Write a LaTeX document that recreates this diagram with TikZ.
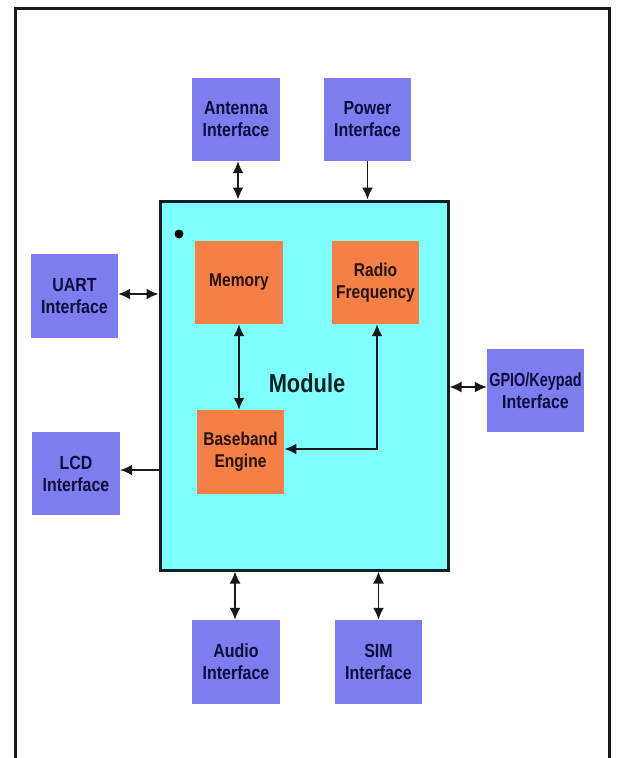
\documentclass[tikz,border=0pt]{standalone}
\usepackage{fontspec}
\newfontfamily\labfont[FakeStretch=0.84]{Liberation Sans}
\newfontfamily\narrowfont[FakeStretch=0.76]{Liberation Sans}
\usetikzlibrary{arrows.meta}
\definecolor{ifblue}{RGB}{125,125,240}
\definecolor{orng}{RGB}{244,128,72}
\definecolor{cyanm}{RGB}{128,255,255}
\definecolor{navy}{RGB}{14,14,60}
\definecolor{dtxt}{RGB}{40,18,18}
\definecolor{mborder}{RGB}{16,32,32}
\tikzset{
  x=1pt,y=-1pt,
  ifbox/.style={rectangle,fill=ifblue,draw=none,align=center,inner sep=0pt,
    font=\labfont\bfseries\fontsize{19}{22}\selectfont,text=navy},
  subbox/.style={rectangle,fill=orng,draw=none,align=center,inner sep=0pt,
    minimum width=87.5pt,minimum height=83pt,
    font=\labfont\bfseries\fontsize{18.5}{22}\selectfont,text=dtxt},
  conn/.style={line width=1.7pt,draw=black!90,{Latex[length=12pt,width=11pt]}-{Latex[length=12pt,width=11pt]}},
  conn1/.style={line width=1.7pt,draw=black!90,-{Latex[length=12pt,width=11pt]}},
}
\begin{document}
\begin{tikzpicture}
\useasboundingbox (0,0) rectangle (617,758);
\clip (0,0) rectangle (617,758);
\fill[white] (0,0) rectangle (617,758);
% outer frame
\draw[line width=3pt,black!90] (15,770) -- (15,8) -- (609,8) -- (609,770);
% module
\node[rectangle,fill=cyanm,draw=mborder,line width=3pt,minimum width=288pt,minimum height=369pt,inner sep=0pt] (module) at (304,385.5) {};
\node[font=\labfont\bfseries\fontsize{26}{30}\selectfont,text=mborder] (modlabel) at (307,383) {Module};
\node[circle,fill=black,inner sep=0pt,minimum size=9pt] (dot) at (179,234) {};
% inner blocks
\node[subbox] (mem) at (239,282.5) {Memory};
\node[subbox] (rf) at (375.5,282.5) {Radio\\Frequency};
\node[subbox,minimum height=84pt] (bb) at (240.5,452) {Baseband\\Engine};
% interfaces
\node[ifbox,minimum width=88pt,minimum height=83pt] (ant) at (236,119.5) {Antenna\\Interface};
\node[ifbox,minimum width=87pt,minimum height=83pt] (pwr) at (367.5,119.5) {Power\\Interface};
\node[ifbox,minimum width=87pt,minimum height=84pt] (uart) at (74.5,296) {UART\\Interface};
\node[ifbox,minimum width=88pt,minimum height=83pt] (lcd) at (76,473.5) {LCD\\Interface};
\node[ifbox,minimum width=97pt,minimum height=83pt,font=\narrowfont\bfseries\fontsize{19}{22}\selectfont] (gpio) at (535.5,390.5) {GPIO/Keypad\\\labfont Interface};
\node[ifbox,minimum width=88pt,minimum height=84pt] (audio) at (236,662) {Audio\\Interface};
\node[ifbox,minimum width=87pt,minimum height=84pt] (sim) at (378.5,662) {SIM\\Interface};
% connectors
\draw[conn] ([xshift=2pt]ant.south) -- ([xshift=2pt]ant.south |- module.north);
\draw[conn1] (pwr.south) -- (pwr.south |- module.north);
\draw[conn] ([yshift=2pt]uart.east) -- ([yshift=2pt]uart.east -| module.west);
\draw[conn1] ([yshift=3.5pt]lcd.east -| module.west) -- ([yshift=3.5pt]lcd.east);
\draw[conn] ([yshift=3.5pt]module.east |- gpio.west) -- ([yshift=3.5pt]gpio.west);
\draw[conn] (mem.south) -- (mem.south |- bb.north);
\draw[conn] ([xshift=1.5pt]rf.south) |- ([yshift=3pt]bb.east);
\draw[conn] ([xshift=-1pt]audio.north) -- ([xshift=-1pt]audio.north |- module.south);
\draw[conn] (sim.north) -- (sim.north |- module.south);
\end{tikzpicture}
\end{document}
